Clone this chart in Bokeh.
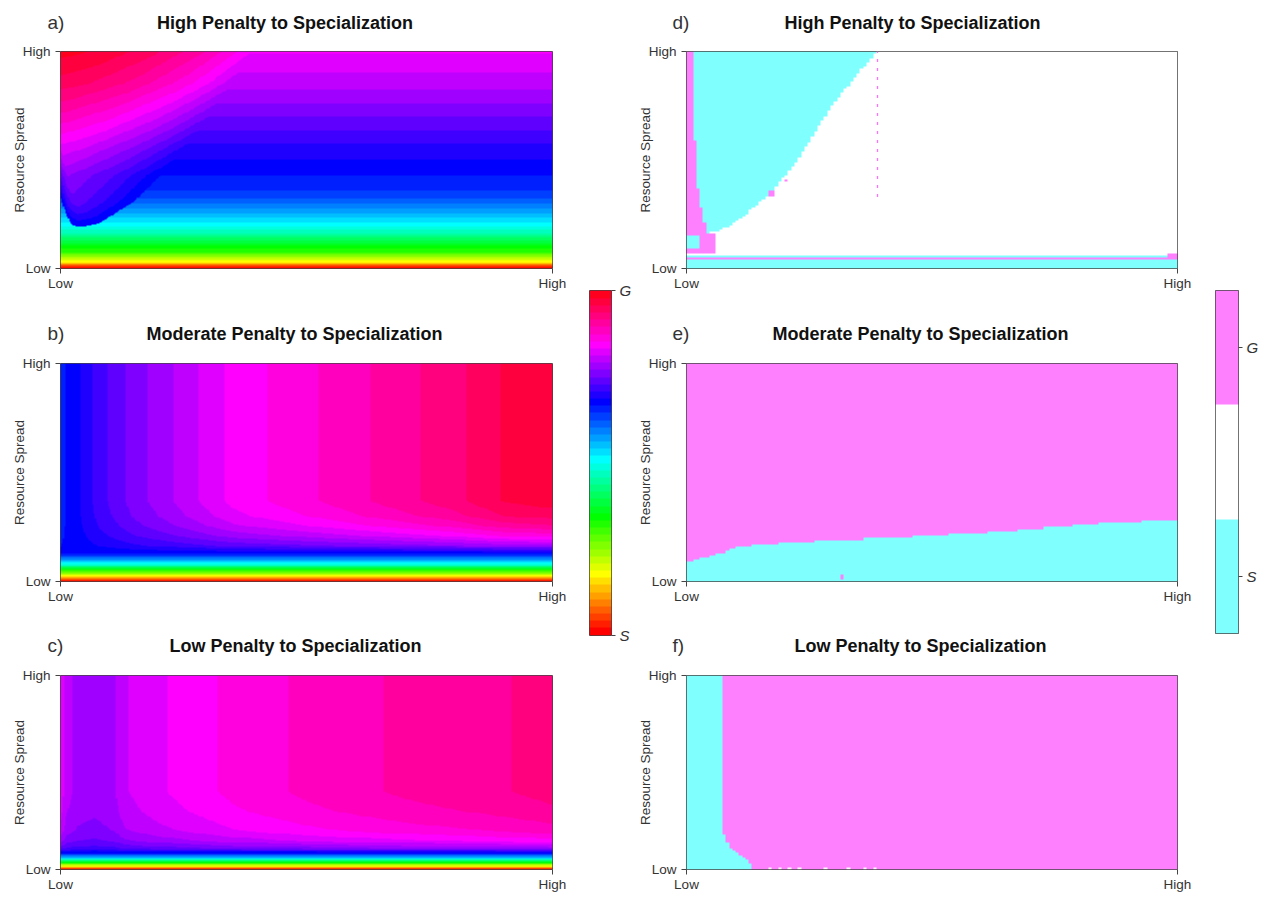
import colorsys
import numpy as np
from bokeh.plotting import figure
from bokeh.layouts import row, column
from bokeh.models import LinearColorMapper, FixedTicker
from bokeh.core.properties import value
from bokeh.embed import file_html
from bokeh.resources import INLINE

# ------------------------------------------------------------------ data
tick_values = [0, 1]
tick_labels = ["Low", "High"]
y_axis_label = "Resource Spread"
titles = ["High Penalty to Specialization",
          "Moderate Penalty to Specialization",
          "Low Penalty to Specialization"]
tags_left = ["a)", "b)", "c)"]
tags_right = ["d)", "e)", "f)"]
cbar1_ticks = [0, 1]
cbar1_labels = ["S", "G"]
cbar2_ticks = [0.5, 2.5]
cbar2_labels = ["S", "G"]
cat_colors = ["#80FFFF", "#FFFFFF", "#FF80FF"]   # S, none, G

# panel a : value along the right part (function of spread)
a_right_y = [0.0, 0.012, 0.025, 0.045, 0.075, 0.12, 0.17, 0.21, 0.27, 0.34, 0.43, 0.55, 0.7, 0.85, 1.0]
a_right_v = [0.0, 0.06, 0.15, 0.22, 0.31, 0.38, 0.47, 0.52, 0.58, 0.64, 0.667, 0.70, 0.75, 0.80, 0.835]
# boundary of the upper-left generalist lobe
a_edge_x = [0.0, 0.01, 0.02, 0.035, 0.08, 0.15, 0.22, 0.285, 0.352, 0.386]
a_edge_y = [0.33, 0.26, 0.21, 0.19, 0.21, 0.31, 0.465, 0.65, 0.866, 1.0]
a_depth = [0.0, 0.05, 0.1, 0.2, 0.3, 0.4]
a_gain = [0.0, 0.035, 0.065, 0.11, 0.14, 0.155]

# panel b
b_col_x = [0.0, 0.03, 0.08, 0.15, 0.25, 0.35, 0.5, 0.65, 0.8, 0.9, 1.0]
b_col_v = [0.66, 0.68, 0.72, 0.76, 0.80, 0.84, 0.87, 0.90, 0.93, 0.96, 0.97]
b_low_y = [0.0, 0.01, 0.025, 0.04, 0.055, 0.075, 0.1, 0.13]
b_low_v = [0.0, 0.08, 0.17, 0.26, 0.35, 0.47, 0.58, 0.67]
b_knee_y = [0.13, 0.16, 0.2, 0.25, 0.3, 0.37]
b_knee_w = [0.0, 0.35, 0.6, 0.8, 0.92, 1.0]

# panel c
c_col_x = [0.0, 0.012, 0.035, 0.07, 0.11, 0.13, 0.2, 0.35, 0.5, 0.7, 0.85, 1.0]
c_col_v = [0.83, 0.80, 0.785, 0.78, 0.79, 0.81, 0.83, 0.86, 0.88, 0.90, 0.91, 0.925]
c_low_y = [0.0, 0.01, 0.02, 0.035, 0.05, 0.065, 0.085]
c_low_v = [0.0, 0.1, 0.2, 0.33, 0.47, 0.58, 0.67]
c_knee_y = [0.085, 0.11, 0.15, 0.2, 0.3, 0.4]
c_knee_w = [0.0, 0.45, 0.7, 0.85, 0.95, 1.0]

# panel d (0 = S, 1 = none, 2 = G)
d_pink_y = [0.161, 0.235, 0.39, 0.62, 1.0]
d_pink_x = [0.043, 0.033, 0.022, 0.016, 0.012]
d_cyan_y = [0.161, 0.175, 0.221, 0.359, 0.484, 0.774, 1.0]
d_cyan_x = [0.043, 0.067, 0.108, 0.175, 0.222, 0.303, 0.389]
d_band_y0 = [0.0, 0.037, 0.05]
d_band_y1 = [0.037, 0.05, 0.063]
d_band_s = [0, 2, 0]
d_blob_x0 = [0.0, 0.0, 0.165, 0.2, 0.98]
d_blob_x1 = [0.06, 0.03, 0.178, 0.206, 1.0]
d_blob_y0 = [0.075, 0.095, 0.33, 0.4, 0.05]
d_blob_y1 = [0.161, 0.15, 0.36, 0.415, 0.075]
d_blob_s = [2, 0, 2, 2, 2]
d_dash_x = 0.389
d_dash_y = [0.33, 1.0]

# panel e : S below the edge, G above
e_edge_x = [0.0, 0.014, 0.035, 0.075, 0.106, 0.156, 0.238, 0.34, 0.44, 0.543, 0.644, 0.746, 0.848, 1.0]
e_edge_y = [0.092, 0.096, 0.11, 0.133, 0.16, 0.17, 0.183, 0.193, 0.202, 0.216, 0.229, 0.248, 0.266, 0.284]
e_speck_x = [0.315, 0.316]
e_speck_y = [0.015, 0.025]

# panel f : S left of the edge, G right
f_edge_y = [0.0, 0.031, 0.062, 0.113, 0.186, 0.216, 1.0]
f_edge_x = [0.134, 0.130, 0.116, 0.089, 0.075, 0.072, 0.070]
f_speck_x = [0.17, 0.19, 0.21, 0.23, 0.28, 0.33, 0.36, 0.385]

# ------------------------------------------------------------------ styles
FONT = "Liberation Sans"
TXT = "#333333"
N_PAL = 48
rainbow = []
for i in range(N_PAL):
    r, g, b = colorsys.hsv_to_rgb(i / N_PAL, 1.0, 1.0)
    rainbow.append("#%02x%02x%02x" % (int(r * 255), int(g * 255), int(b * 255)))
rain_mapper = LinearColorMapper(palette=rainbow, low=0.0, high=1.0)
cat_mapper = LinearColorMapper(palette=cat_colors, low=-0.5, high=2.5)

# grids
NX, NY = 400, 240
xs = (np.arange(NX) + 0.5) / NX
ys = (np.arange(NY) + 0.5) / NY
X, Y = np.meshgrid(xs, ys)
CX, CY = 150, 100
cxs = (np.arange(CX) + 0.5) / CX
cys = (np.arange(CY) + 0.5) / CY
XC, YC = np.meshgrid(cxs, cys)

# panel a field
right = np.interp(Y, a_right_y, a_right_v)
yb = np.interp(X, a_edge_x, a_edge_y, right=9.0)
k0 = int(np.argmin(a_edge_y))
xc = np.interp(Y, a_edge_y[k0:], a_edge_x[k0:])
dv = Y - yb
dh = xc - X
inside = dv > 0
depth = np.minimum(dv, np.maximum(dh, 0))
A = np.where(inside, np.maximum(0.667, right) + np.interp(depth, a_depth, a_gain), right)


def column_field(cx, cv, ly, lv, ky, kw):
    col = np.interp(X, cx, cv)
    low = np.interp(Y, ly, lv)
    w = np.interp(Y, ky, kw)
    return low + (col - low) * w


B = column_field(b_col_x, b_col_v, b_low_y, b_low_v, b_knee_y, b_knee_w)
C = column_field(c_col_x, c_col_v, c_low_y, c_low_v, c_knee_y, c_knee_w)

# panel d
D = np.ones((CY, CX))
pe = np.interp(YC, d_pink_y, d_pink_x)
ce = np.interp(YC, d_cyan_y, d_cyan_x)
top = YC >= d_pink_y[0]
D[top & (XC < pe)] = 2
D[top & (XC >= pe) & (XC < ce)] = 0
for y0, y1, s in zip(d_band_y0, d_band_y1, d_band_s):
    D[(YC >= y0) & (YC < y1)] = s
for x0, x1, y0, y1, s in zip(d_blob_x0, d_blob_x1, d_blob_y0, d_blob_y1, d_blob_s):
    D[(XC >= x0) & (XC < x1) & (YC >= y0) & (YC < y1)] = s

# panel e
E = np.where(YC < np.interp(XC, e_edge_x, e_edge_y), 0, 2).astype(float)
for sx, sy in zip(e_speck_x, e_speck_y):
    E[int(sy * CY), int(sx * CX)] = 2

# panel f
F = np.where(XC < np.interp(YC, f_edge_y, f_edge_x), 0, 2).astype(float)
for sx in f_speck_x:
    F[0, int(sx * CX)] = 1


# ------------------------------------------------------------------ figures
def panel(img, mapper, fw, fh, bb, bl, br):
    p = figure(frame_width=fw, frame_height=fh, x_range=(0, 1), y_range=(0, 1),
               min_border_top=10, min_border_bottom=bb, min_border_left=bl,
               min_border_right=br, output_backend="svg", toolbar_location=None)
    p.image(image=[img], x=0, y=0, dw=1, dh=1, color_mapper=mapper)
    p.grid.visible = False
    p.outline_line_color = "#444444"
    p.outline_line_width = 1
    for ax in (p.xaxis[0], p.yaxis[0]):
        ax.ticker = FixedTicker(ticks=tick_values)
        ax.major_label_overrides = dict(zip(tick_values, tick_labels))
        ax.minor_tick_line_color = None
        ax.axis_line_color = None
        ax.major_tick_in = 0
        ax.major_tick_out = 5
        ax.major_tick_line_color = "#444444"
        ax.major_label_text_font = FONT
        ax.major_label_text_font_size = "13.5px"
        ax.major_label_text_color = TXT
    p.xaxis.major_label_standoff = 2
    p.yaxis.major_label_standoff = 5
    p.yaxis.major_label_orientation = "horizontal"
    p.yaxis.axis_label = y_axis_label
    p.yaxis.axis_label_text_font = FONT
    p.yaxis.axis_label_text_font_style = "normal"
    p.yaxis.axis_label_text_font_size = "13.5px"
    p.yaxis.axis_label_text_color = TXT
    p.yaxis.axis_label_standoff = -7
    return p


def title_fig(w, h, x0, tag, tag_x, title, title_x, base_y):
    # x data units = page pixels; the whole figure is frame
    t = figure(frame_width=w, frame_height=h, x_range=(x0, x0 + w), y_range=(0, h),
               min_border=0, output_backend="svg", toolbar_location=None)
    t.axis.visible = False
    t.grid.visible = False
    t.outline_line_color = None
    t.text(x=[tag_x], y=[base_y], text=[tag], text_font=value(FONT),
           text_font_size="19px", text_color=TXT, text_align="left",
           text_baseline="alphabetic")
    t.text(x=[title_x], y=[base_y], text=[title], text_font=value(FONT),
           text_font_style="bold", text_font_size="18px", text_color="#111111",
           text_align="center", text_baseline="alphabetic")
    return row(t)


WL = 60 + 492 + 16
WR = 52 + 491 + 20
XL0 = 0
XR0 = WL + 21 + 22 + 21

title_h = [41, 33, 33]
title_base = [19, 20, 20]
left_cx = [284.5, 294, 295]
right_cx = [910, 918, 918]
frame_h = [217, 218, 194]
bottom_b = [52, 51, 22]
imgs_left = [A, B, C]
imgs_right = [D, E, F]

left_items, right_items = [], []
for k in range(3):
    left_items.append(title_fig(WL, title_h[k], XL0, tags_left[k], 47,
                                titles[k], left_cx[k], title_base[k]))
    left_items.append(panel(imgs_left[k], rain_mapper, 492, frame_h[k], bottom_b[k], 60, 16))
    right_items.append(title_fig(WR, title_h[k], XR0, tags_right[k], 670,
                                 titles[k], right_cx[k], title_base[k]))
    pr = panel(imgs_right[k], cat_mapper, 491, frame_h[k], bottom_b[k], 52, 20)
    if k == 0:
        pr.segment(x0=[d_dash_x], y0=[d_dash_y[0]], x1=[d_dash_x], y1=[d_dash_y[1]],
                   line_color="#FF70FF", line_width=1.3, line_dash="3 6")
    right_items.append(pr)


def cbar(img, mapper, yr, ticks, labels, fw, fh, bt, bb, bl, br, dh):
    p = figure(frame_width=fw, frame_height=fh, x_range=(0, 1), y_range=yr,
               min_border_top=bt, min_border_bottom=bb, min_border_left=bl,
               min_border_right=br, output_backend="svg", toolbar_location=None,
               y_axis_location="right")
    p.image(image=[img], x=0, y=yr[0], dw=1, dh=dh, color_mapper=mapper)
    p.grid.visible = False
    p.xaxis.visible = False
    p.outline_line_color = "#444444"
    ax = p.yaxis[0]
    ax.ticker = FixedTicker(ticks=ticks)
    ax.major_label_overrides = dict(zip(ticks, labels))
    ax.minor_tick_line_color = None
    ax.axis_line_color = None
    ax.major_tick_in = 0
    ax.major_tick_out = 4
    ax.major_tick_line_color = "#444444"
    ax.major_label_text_font = FONT
    ax.major_label_text_font_style = "italic"
    ax.major_label_text_font_size = "15px"
    ax.major_label_text_color = TXT
    ax.major_label_standoff = 4
    return p


grad = np.linspace(0, 1, 345).reshape(-1, 1) * np.ones((1, 2))
cb1 = cbar(grad, rain_mapper, (0, 1), cbar1_ticks, cbar1_labels, 22, 345, 289, 257, 21, 21, 1)
steps = np.array([[0.0], [1.0], [2.0]]) * np.ones((1, 2))
cb2 = cbar(steps, cat_mapper, (0, 3), cbar2_ticks, cbar2_labels, 23, 343, 290, 258, 18, 24, 3)

layout = row(column(*left_items), cb1, column(*right_items), cb2)

open("out.html", "w").write(file_html(layout, INLINE))
